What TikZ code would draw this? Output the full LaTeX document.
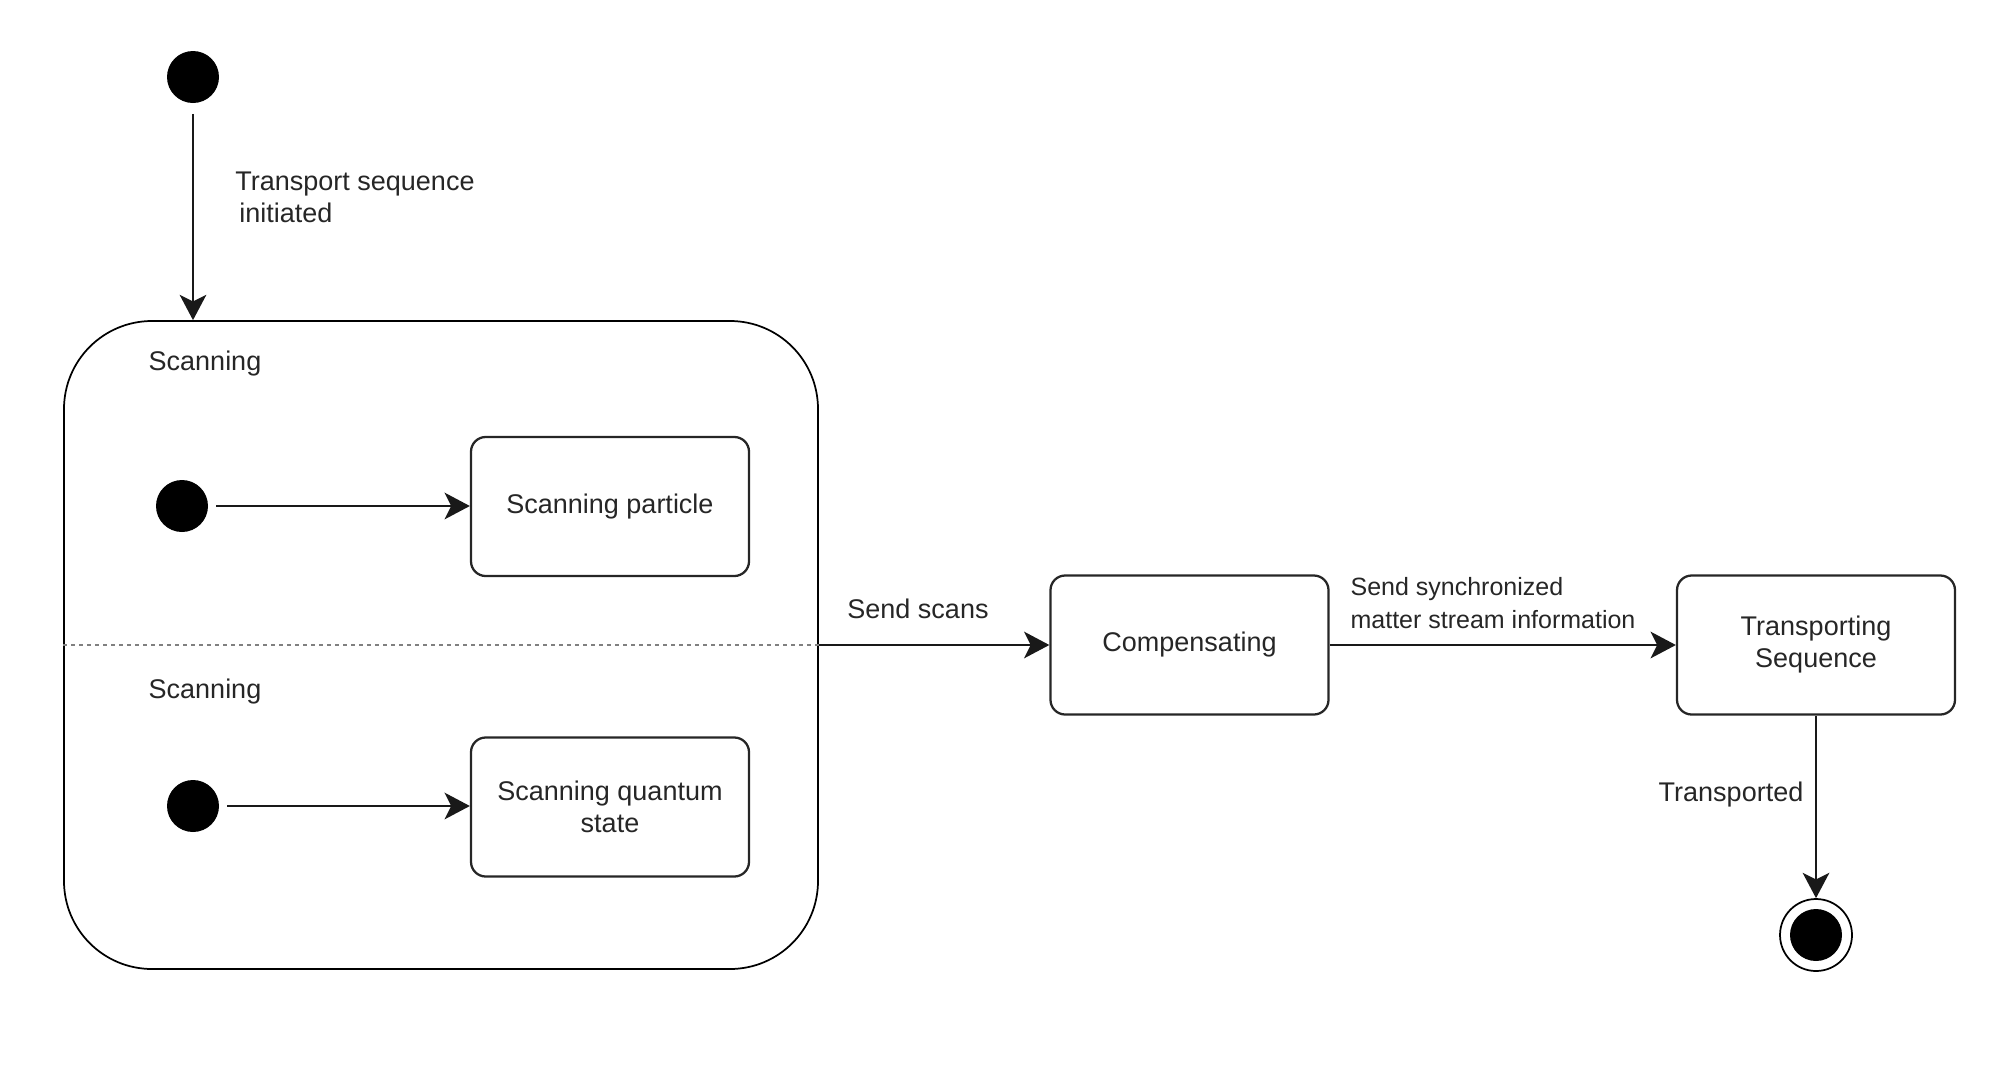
\documentclass[tikz,border=0pt]{standalone}
\usepackage{fontspec}
\setmainfont{Liberation Sans}
\usetikzlibrary{arrows.meta}
\begin{document}
\begin{tikzpicture}[x=0.75pt,y=-0.75pt]
\tikzset{
 lbl/.style={text=black!85, font=\fontsize{20.25pt}{24pt}\selectfont, inner sep=0pt},
 slbl/.style={text=black!85, font=\fontsize{18.75pt}{24.5pt}\selectfont, inner sep=0pt},
 stbox/.style={draw=black!85, line width=1.7pt, rounded corners=11pt, minimum width=208.5pt, minimum height=104.25pt, align=center, lbl},
 initst/.style={circle, fill=black, minimum size=39pt, inner sep=0pt},
 trans/.style={-{Stealth[length=19pt,width=20pt,inset=5pt]}, line width=1.7pt, draw=black!90},
}
\useasboundingbox (0,0) rectangle (2003,1068);
% composite state
\node[draw=black, line width=1.3pt, rounded corners=66pt, minimum width=565.5pt, minimum height=486pt, inner sep=0pt] (outer) at (441,645) {};
\draw[gray, line width=1.6pt, dash pattern=on 3pt off 3pt] (outer.west) -- (outer.east);
\node[lbl] (sc1) at (205,364) {Scanning};
\node[lbl] (sc2) at (205,692) {Scanning};
% initial states
\node[initst] (init) at (193,77) {};
\node[initst] (i1) at (182,506) {};
\node[initst] (i2) at (193,806) {};
% states
\node[stbox] (b1) at (610,506.5) {Scanning particle};
\node[stbox] (b2) at (610,807) {Scanning quantum\\state};
\node[stbox] (comp) at (1189.5,645) {Compensating};
\node[stbox] (tr) at (1816,645) {Transporting\\Sequence};
% final state
\node[circle, draw=black, line width=1.3pt, minimum size=54pt, inner sep=0pt] (fin) at (1816,935) {};
\node[circle, fill=black, minimum size=39pt, inner sep=0pt] (fincore) at (fin) {};
% transitions
\draw[trans] ([yshift=-8pt]init.south) -- (init |- outer.north);
\draw[trans] ([xshift=6pt]i1.east) -- (i1 -| b1.west);
\draw[trans] ([xshift=6pt]i2.east) -- (i2 -| b2.west);
\draw[trans] (outer.east) -- (comp.west);
\draw[trans] (comp.east) -- (tr.west);
\draw[trans] (tr.south) -- (fin.north);
% transition labels
\node[lbl, align=left] (l1) at (355,197) {Transport sequence\\\hspace{3pt}initiated};
\node[lbl] (l2) at (918,609) {Send scans};
\node[slbl, align=left] (l3) at (1493,603) {Send synchronized\\matter stream information};
\node[lbl] (l4) at (1731,795) {Transported};
\end{tikzpicture}
\end{document}
